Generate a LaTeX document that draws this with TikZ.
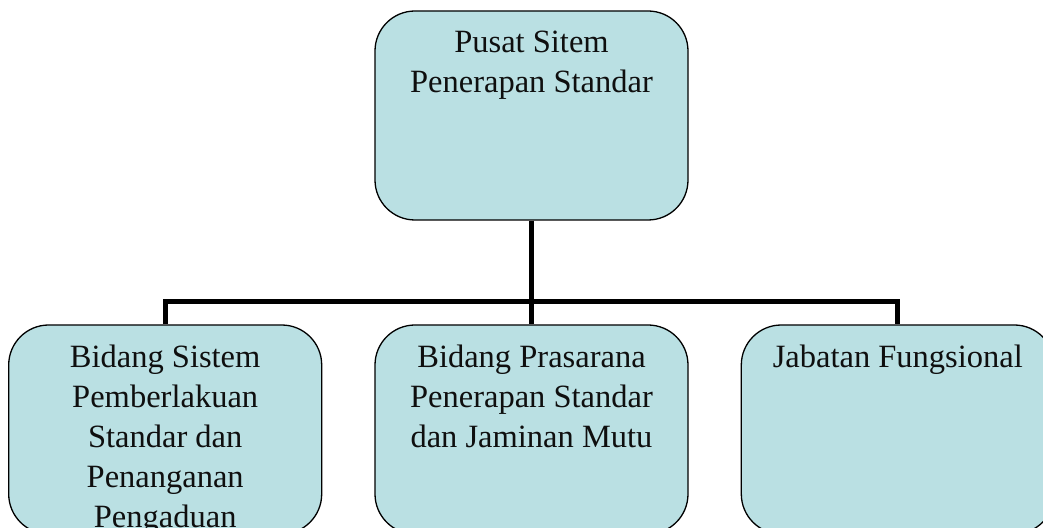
\documentclass[tikz,border=0pt]{standalone}
\usepackage{fontspec}
\setmainfont{Liberation Serif}
\usetikzlibrary{positioning}
\definecolor{boxfill}{RGB}{186,224,227}
\definecolor{boxink}{RGB}{15,15,15}
\newcommand{\unittext}[1]{\parbox[t][209pt][t]{313pt}{\centering\vspace*{20pt}#1}}

\begin{document}
\begin{tikzpicture}[x=1pt,y=1pt,node distance=52pt,
  unit/.style={draw,line width=1.3pt,fill=boxfill,rounded corners=40pt,inner sep=0pt,
    text=boxink,font=\fontsize{32.5}{40}\selectfont},
  link/.style={line width=5pt}]
\useasboundingbox (0,0) rectangle (1043,527);
\node[unit] (pusat) at (531.5,411.5) {\unittext{Pusat Sitem\\Penerapan Standar}};
\node[unit] (prasarana) at (531.5,97.5) {\unittext{Bidang Prasarana\\Penerapan Standar\\dan Jaminan Mutu}};
\node[unit] (sistem) [left=of prasarana] {\unittext{Bidang Sistem\\Pemberlakuan\\Standar dan\\Penanganan\\Pengaduan}};
\node[unit] (fungsional) [right=of prasarana] {\unittext{Jabatan Fungsional}};
\coordinate (bus) at (531.5,225);
\draw[link] (pusat.south) -- (bus)
  (sistem.north) |- (bus) -| (fungsional.north)
  (bus) -- (prasarana.north);
\end{tikzpicture}
\end{document}
